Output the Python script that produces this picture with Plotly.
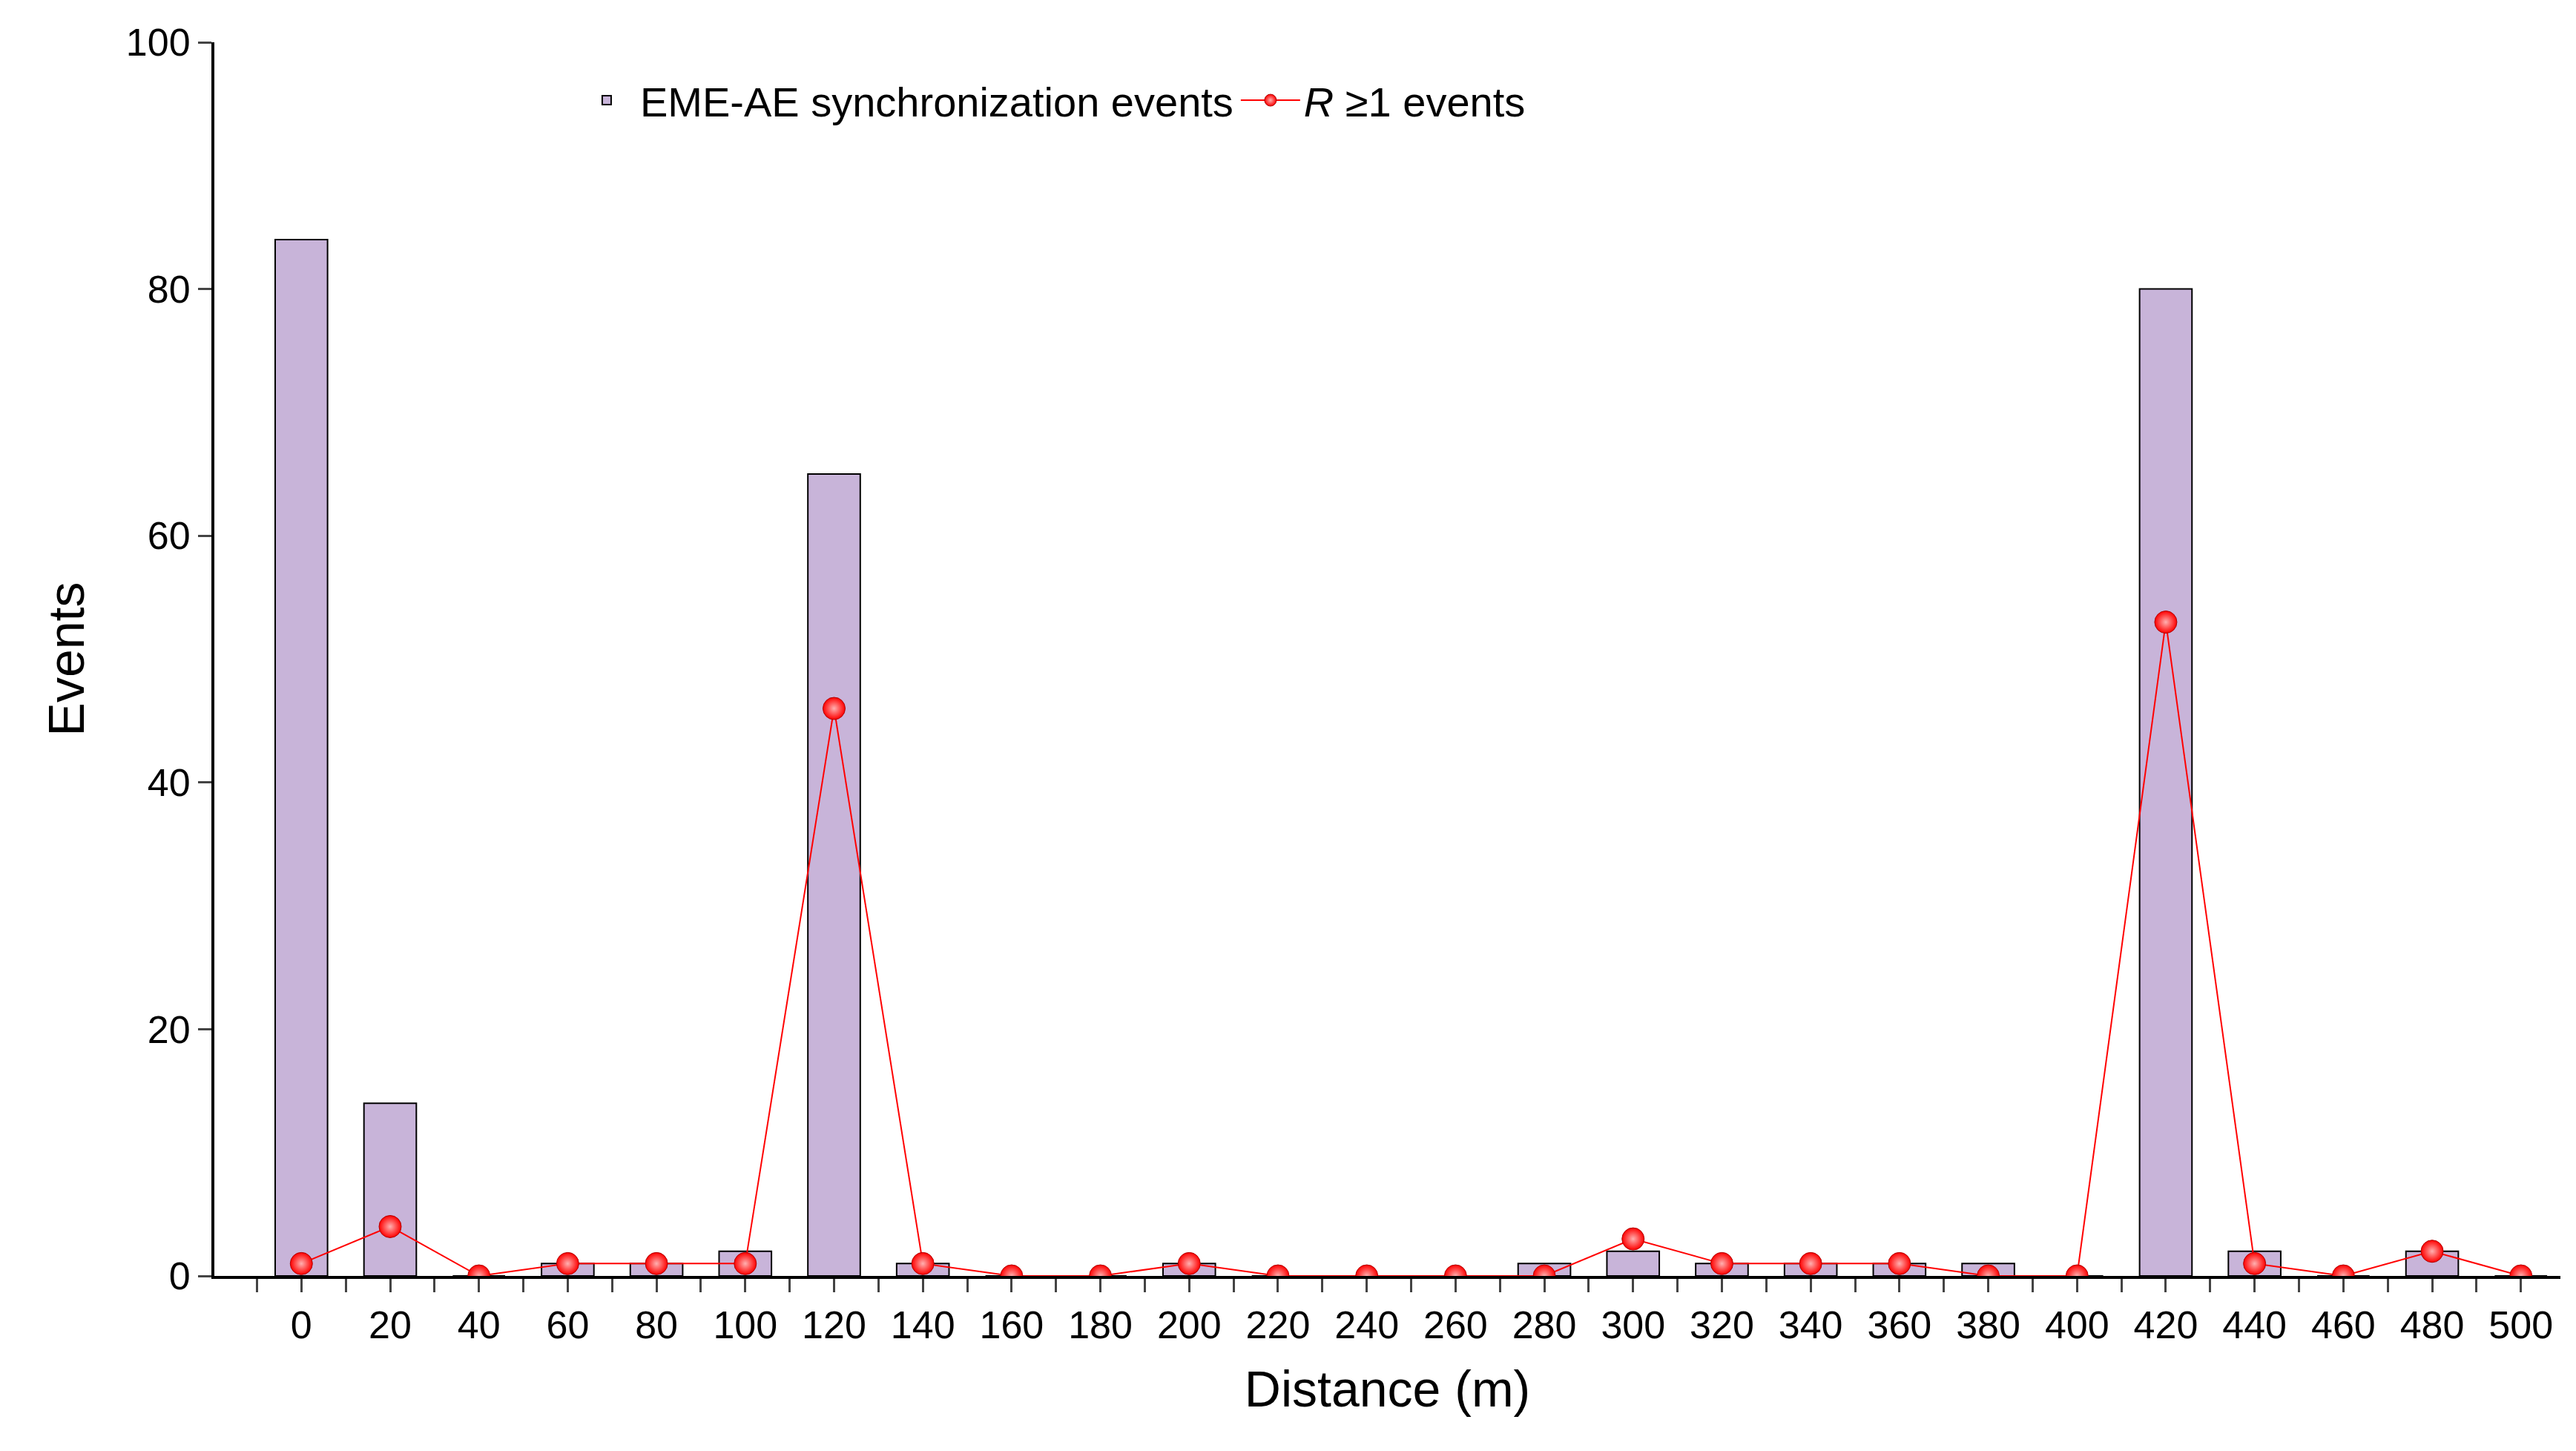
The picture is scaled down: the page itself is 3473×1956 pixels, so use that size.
import plotly.graph_objects as go

distance = list(range(0, 501, 20))
sync_events = [84, 14, 0, 1, 1, 2, 65, 1, 0, 0, 1, 0, 0, 0, 1, 2, 1, 1, 1, 1, 0, 80, 2, 0, 2, 0]
r_events = [1, 4, 0, 1, 1, 1, 46, 1, 0, 0, 1, 0, 0, 0, 0, 3, 1, 1, 1, 0, 0, 53, 1, 0, 2, 0]

font = "Liberation Sans, Arial, sans-serif"
fig = go.Figure()
fig.add_trace(go.Bar(x=distance, y=sync_events, width=11.8, name="EME-AE synchronization events",
                     marker=dict(color="#c8b4d9", line=dict(color="black", width=2))))
fig.add_trace(go.Scatter(x=distance, y=r_events, mode="lines+markers", name="<i>R</i> ≥1 events",
                         line=dict(color="red", width=2),
                         marker=dict(size=30, color="red", gradient=dict(type="radial", color="#ffb0b0"),
                                     line=dict(color="#b00000", width=1))))
fig.update_layout(
    width=3473, height=1956, paper_bgcolor="white", plot_bgcolor="white",
    margin=dict(l=281, r=29, t=49, b=244),
    font=dict(family=font, size=52, color="black"),
    showlegend=True,
    legend=dict(orientation="h", x=0.153, y=0.953, yanchor="middle", xanchor="left",
                font=dict(size=56), bgcolor="rgba(0,0,0,0)", itemwidth=80, traceorder="normal"),
    xaxis=dict(range=[-19.6, 508.9], tickmode="array", tickvals=distance, ticks="outside",
               ticklen=18, tickwidth=3, showline=True, linewidth=4, linecolor="black",
               showgrid=False, zeroline=False,
               minor=dict(tickvals=[d + 10 for d in range(-20, 501, 20)], ticks="outside", ticklen=18, tickwidth=3),
               title=dict(text="Distance (m)", font=dict(size=68), standoff=35)),
    yaxis=dict(range=[0, 100], tickvals=[0, 20, 40, 60, 80, 100], ticks="outside", ticklen=18, tickwidth=3,
               showline=True, linewidth=4, linecolor="black", showgrid=False, zeroline=False,
               title=dict(text="Events", font=dict(size=68), standoff=35)),
)
fig.write_html("out.html")
